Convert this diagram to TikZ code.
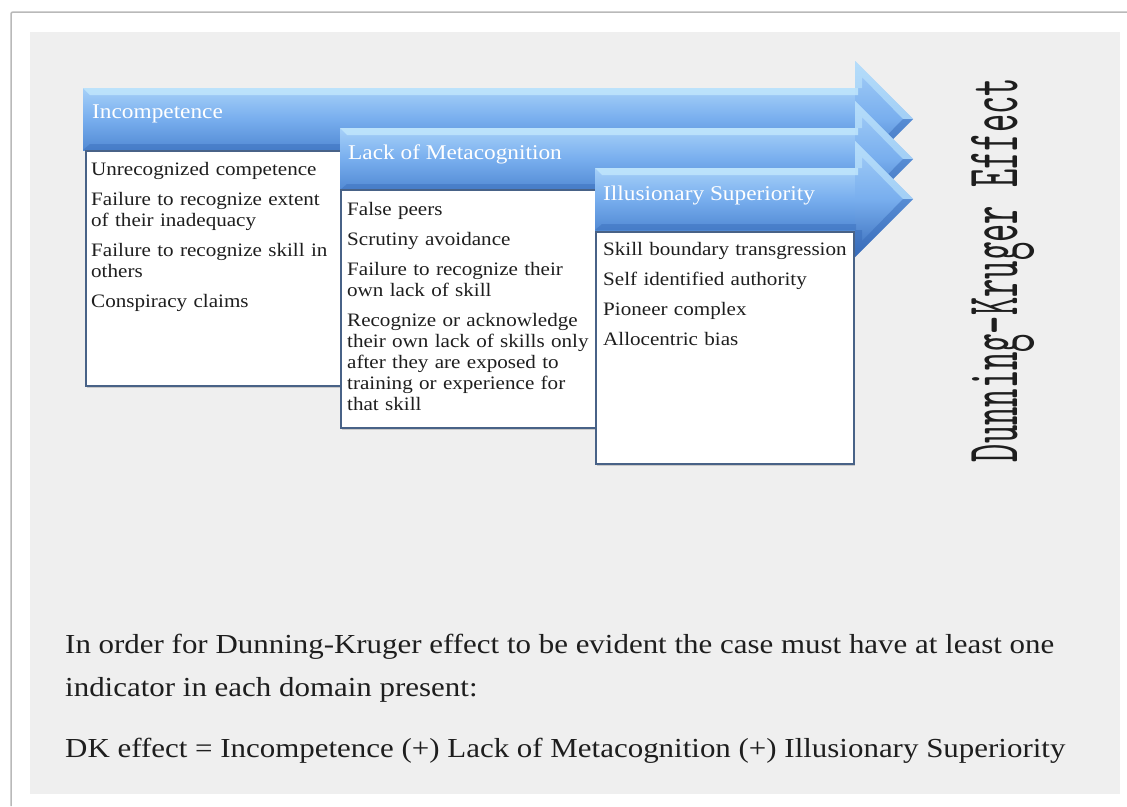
\documentclass[tikz,border=0pt]{standalone}
\usepackage{graphicx}
\usepackage{fontspec}
\setmainfont{Liberation Serif}[FakeStretch=1.11]
\newfontfamily\notefont{Liberation Serif}[FakeStretch=1.125]
\usetikzlibrary{shadows}
\definecolor{panel}{RGB}{239,239,239}
\definecolor{framec}{RGB}{185,185,185}
\definecolor{aTop}{RGB}{166,208,248}
\definecolor{aMid}{RGB}{120,174,238}
\definecolor{aBot}{RGB}{82,138,212}
\definecolor{aHi}{RGB}{192,230,252}
\definecolor{aDark}{RGB}{56,108,186}
\definecolor{boxline}{RGB}{72,98,135}
\definecolor{txt}{RGB}{30,30,30}
\newcommand{\dkarrow}[2]{%
  \shade[top color=aTop, bottom color=aBot, middle color=aMid] (#1,#2-31) rectangle (856,#2+31);
  \shade[top color=aTop, bottom color=aDark, middle color=aMid] (855,#2-58) -- (913,#2) -- (855,#2+58) -- cycle;
  \fill[aHi, opacity=0.85] (#1,#2-31) -- (858,#2-31) -- (858,#2-24) -- (#1+7,#2-24) -- cycle;
  \fill[aDark, opacity=0.45] (#1+7,#2+25) -- (856,#2+25) -- (856,#2+31) -- (#1,#2+31) -- cycle;
  \fill[aHi, opacity=0.6] (855,#2-58) -- (913,#2) -- (903,#2) -- (862,#2-42) -- (862,#2-31) -- (855,#2-31) -- cycle;
  \fill[aDark, opacity=0.5] (855,#2+58) -- (913,#2) -- (903,#2) -- (862,#2+42) -- (862,#2+31) -- (855,#2+31) -- cycle;
}
\tikzset{
  dkbox/.style={draw=boxline, line width=1.6pt, fill=white, inner sep=0pt, anchor=north west,
    drop shadow={opacity=0.35, shadow xshift=1.5pt, shadow yshift=-2.5pt}},
  hdr/.style={anchor=base west, inner sep=0pt, text=white, font=\fontsize{21}{24}\selectfont},
  items/.style={anchor=base west, inner sep=0pt, text=txt, text width=252pt, align=left,
    font=\fontsize{19}{21}\selectfont},
  note/.style={anchor=base west, inner sep=0pt, text=txt, font=\notefont\fontsize{27.5}{33}\selectfont}
}
\begin{document}
\begin{tikzpicture}[x=1pt,y=-1pt]
\useasboundingbox (0,0) rectangle (1127,806);
\fill[white] (0,0) rectangle (1127,806);
\fill[panel] (30,32) rectangle (1120,794);
\draw[framec, line width=1.5pt, rounded corners=2pt] (11,806) -- (11,12) -- (1127,12);

% arrow 1
\dkarrow{83}{119}
\node[dkbox, minimum width=257pt, minimum height=235pt] (b1) at (85,150) {};
\node[hdr] (h1) at (92,118) {Incompetence};
\node[items] (i1) at (91,175) {Unrecognized competence\\[9pt]
Failure to recognize extent\\ of their inadequacy\\[9pt]
Failure to recognize skill in\\ others\\[9pt]
Conspiracy claims};

% arrow 2
\dkarrow{340}{159}
\node[dkbox, minimum width=256pt, minimum height=238pt] (b2) at (340,189) {};
\node[hdr] (h2) at (348,159) {Lack of Metacognition};
\node[items] (i2) at (347,215) {False peers\\[9pt]
Scrutiny avoidance\\[9pt]
Failure to recognize their\\ own lack of skill\\[9pt]
Recognize or acknowledge\\ their own lack of skills only\\ after they are exposed to\\ training or experience for\\ that skill};

% arrow 3
\dkarrow{595}{199}
\node[dkbox, minimum width=258pt, minimum height=232pt] (b3) at (595,231) {};
\node[hdr] (h3) at (603,200) {Illusionary Superiority};
\node[items] (i3) at (603,255) {Skill boundary transgression\\[9pt]
Self identified authority\\[9pt]
Pioneer complex\\[9pt]
Allocentric bias};

% vertical title
\node[rotate=90, anchor=base, inner sep=0pt, text=txt] (vt) at (1017,270)
  {\resizebox{384pt}{46pt}{\ttfamily Dunning-Kruger Effect}};

% bottom note
\node[note] (n1) at (65,653) {In order for Dunning-Kruger effect to be evident the case must have at least one};
\node[note] (n2) at (65,696) {indicator in each domain present:};
\node[note] (n3) at (65,757) {DK effect = Incompetence (+) Lack of Metacognition (+) Illusionary Superiority};
\end{tikzpicture}
\end{document}
